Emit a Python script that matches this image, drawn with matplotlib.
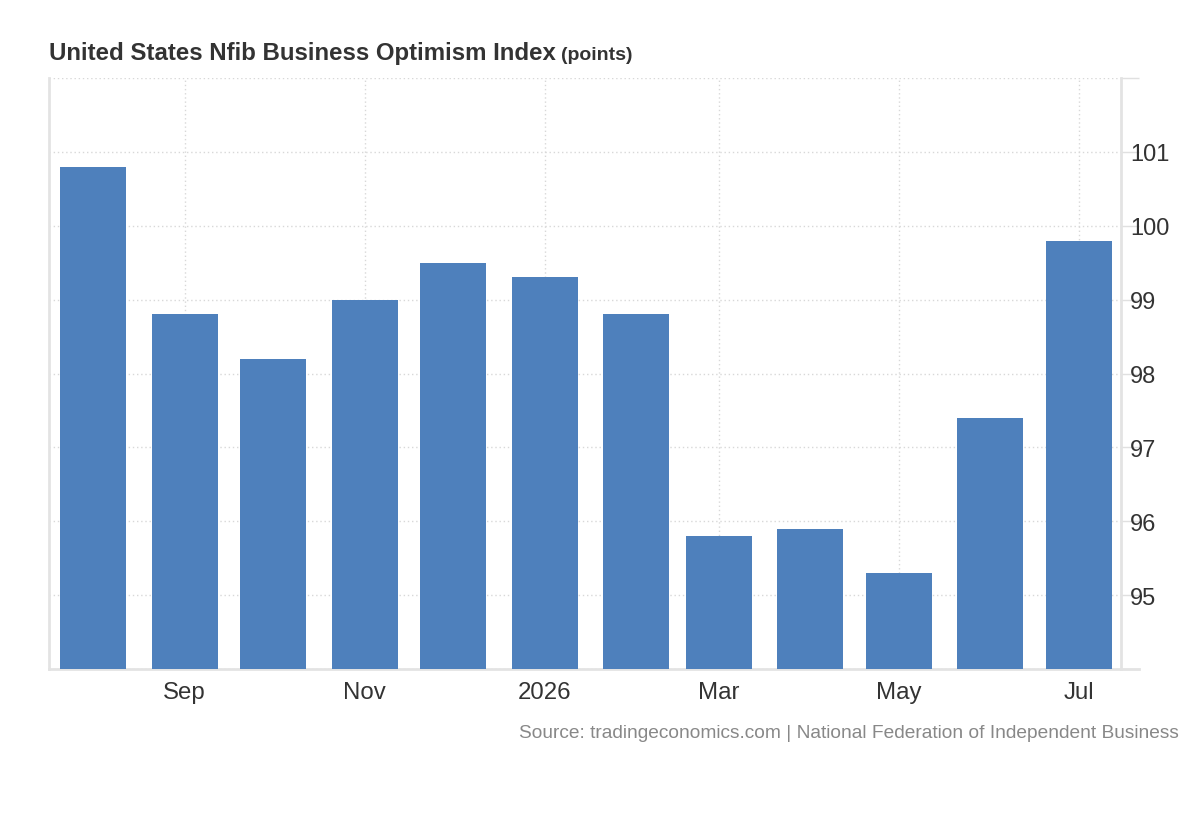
import matplotlib
matplotlib.use('Agg')
import matplotlib.pyplot as plt
from datetime import datetime, timedelta

plt.rcParams['font.family'] = ['Liberation Sans', 'DejaVu Sans']

# monthly readings, Aug 2025 - Jul 2026
months = ['2025-08-01', '2025-09-01', '2025-10-01', '2025-11-01', '2025-12-01', '2026-01-01',
          '2026-02-01', '2026-03-01', '2026-04-01', '2026-05-01', '2026-06-01', '2026-07-01']
values = [100.8, 98.8, 98.2, 99.0, 99.5, 99.3, 98.8, 95.8, 95.9, 95.3, 97.4, 99.8]
tick_dates = ['2025-09-01', '2025-11-01', '2026-01-01', '2026-03-01', '2026-05-01', '2026-07-01']
tick_labels = ['Sep', 'Nov', '2026', 'Mar', 'May', 'Jul']
y_ticks = [94, 95, 96, 97, 98, 99, 100, 101, 102]

dates = [datetime.strptime(m, '%Y-%m-%d') for m in months]
tdates = [datetime.strptime(m, '%Y-%m-%d') for m in tick_dates]

fig = plt.figure(figsize=(12, 8.2), dpi=100)
ax = fig.add_axes([49/1200, 150/820, (1121-49)/1200, (670-79)/820])

ax.bar(dates, values, width=22.3, color='#4e80bc', zorder=3)

ax.set_ylim(94, 102)
ax.set_xlim(dates[0] - timedelta(days=15), dates[-1] + timedelta(days=14.3))

ax.yaxis.tick_right()
ax.set_yticks(y_ticks)
ax.set_yticklabels(['' if v in (94, 102) else str(v) for v in y_ticks])
ax.set_xticks(tdates)
ax.set_xticklabels(tick_labels)

ax.tick_params(axis='y', length=13, width=1, color='#e0e0e0', labelsize=17,
               labelcolor='#333333', pad=-6.5)
ax.tick_params(axis='x', length=0, labelsize=17.3, labelcolor='#333333', pad=9)

ax.grid(True, linestyle=(0, (1, 2)), color='#d8d8d8', linewidth=1, zorder=0)
ax.spines['top'].set_visible(False)
for s in ['left', 'right', 'bottom']:
    ax.spines[s].set_color('#e3e3e3')
    ax.spines[s].set_linewidth(2)

# bottom line extends past right axis
fig.add_artist(plt.Line2D([1121/1200, 1139/1200], [150/820, 150/820], color='#e3e3e3', lw=2))

fig.text(49/1200, 1 - 60/820, 'United States Nfib Business Optimism Index', fontsize=17.3,
         fontweight='bold', color='#333333', ha='left', va='baseline')
fig.text(561/1200, 1 - 60/820, '(points)', fontsize=14, fontweight='bold',
         color='#333333', ha='left', va='baseline')
fig.text(1179/1200, 1 - 738/820,
         'Source: tradingeconomics.com | National Federation of Independent Business',
         fontsize=13.8, color='#888888', ha='right', va='baseline')

fig.savefig('out.png', dpi=100)
